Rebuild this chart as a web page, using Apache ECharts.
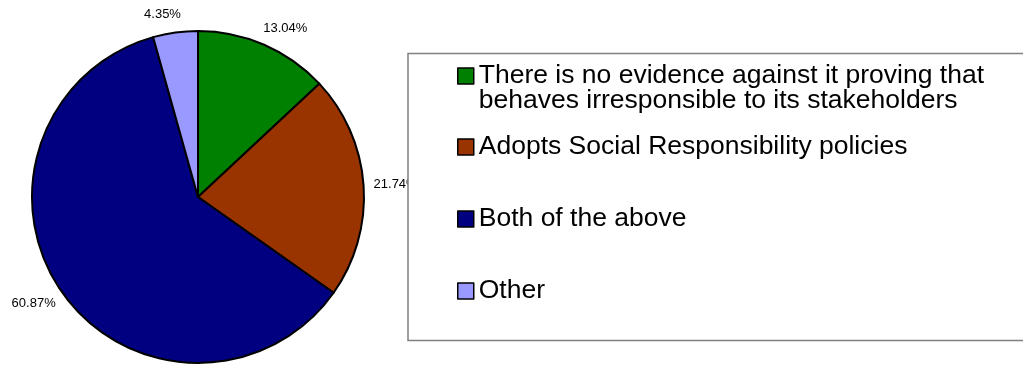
<!DOCTYPE html>
<html>
<head>
<meta charset="utf-8">
<script src="https://cdn.jsdelivr.net/npm/echarts@6/dist/echarts.min.js"></script>
<style>
  html, body { margin: 0; padding: 0; background: #ffffff; }
  #chart { width: 1023px; height: 365px; }
</style>
</head>
<body>
<div id="chart"></div>
<script>
// Answer categories (legend order = slice order, clockwise from 12 o'clock)
const categories = [
  'There is no evidence against it proving that\nbehaves irresponsible to its stakeholders',
  'Adopts Social Responsibility policies',
  'Both of the above',
  'Other'
];
// Share of responses, in percent
const shares = [13.04, 21.74, 60.87, 4.35];
// Slice fill colours
const sliceColors = ['#008000', '#993300', '#000080', '#9999FF'];

const FONT = "'Liberation Sans', Arial, sans-serif";
const LEGEND_LINE = 23;

const chart = echarts.init(document.getElementById('chart'), null, { renderer: 'canvas' });

// Shared look of both legend blocks
function legendBase(extra, lineHeight) {
  const base = {
    z: 10,
    orient: 'vertical',
    left: 457,
    padding: 0,
    itemWidth: 16,
    itemHeight: 16,
    icon: 'rect',
    selectedMode: false,
    itemStyle: { borderColor: '#000000', borderWidth: 1.5 },
    textStyle: {
      fontFamily: FONT,
      fontSize: 26.5,
      lineHeight: lineHeight,
      color: '#000000'
    }
  };
  return Object.assign(base, extra);
}

chart.setOption({
  animation: false,
  color: sliceColors,
  graphic: [{
    type: 'rect',
    z: 5,
    silent: true,
    shape: { x: 408, y: 53.5, width: 700, height: 287 },
    style: { fill: '#ffffff', stroke: '#808080', lineWidth: 1.5 }
  }],
  legend: [
    // two-line entry: an empty leading line keeps its first line level with the swatch
    legendBase({
      top: 37.5,
      formatter: function (name) { return '\n' + name; },
      data: categories.slice(0, 1)
    }, 25),
    // single-line entries, evenly spaced
    legendBase({
      top: 112.5,
      itemGap: 3,
      data: categories.slice(1).map(function (name) {
        return {
          name: name,
          textStyle: {
            padding: [LEGEND_LINE, 0, LEGEND_LINE, 0],
            backgroundColor: 'rgba(0,0,0,0)'
          }
        };
      })
    }, LEGEND_LINE)
  ],
  series: [{
    type: 'pie',
    center: [198, 197],
    radius: 166,
    startAngle: 90,
    clockwise: true,
    avoidLabelOverlap: false,
    bleedMargin: 0,
    silent: true,
    itemStyle: { borderColor: '#000000', borderWidth: 2 },
    label: {
      show: true,
      position: 'outside',
      fontFamily: FONT,
      fontSize: 13,
      color: '#000000',
      distanceToLabelLine: -8,
      formatter: function (p) { return p.value.toFixed(2) + '%'; }
    },
    labelLine: { show: false, length: 18, length2: 0 },
    emphasis: { disabled: true },
    data: categories.map(function (name, i) {
      return { name: name, value: shares[i] };
    })
  }]
});
</script>
</body>
</html>
